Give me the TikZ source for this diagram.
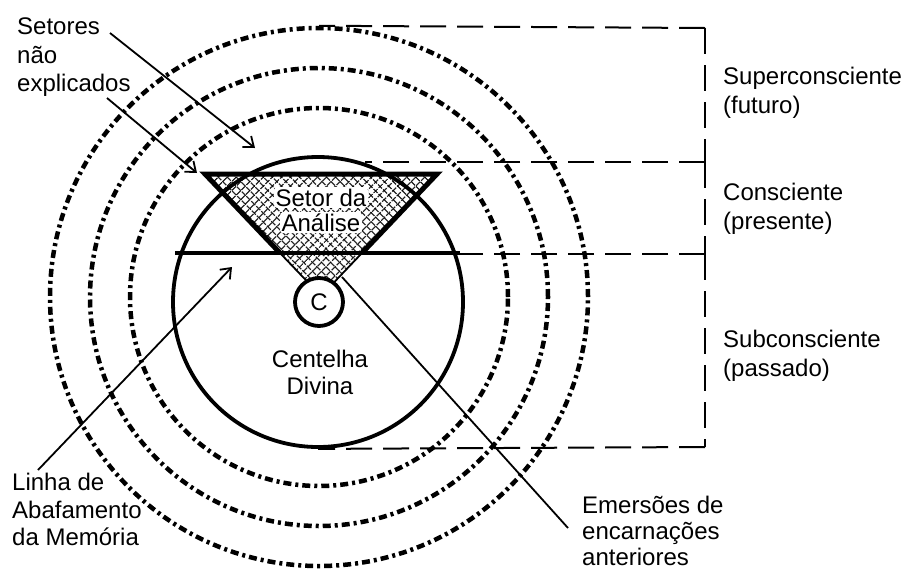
\documentclass[tikz,border=0pt]{standalone}
\usepackage{fontspec}
\setmainfont{Liberation Sans}
\usetikzlibrary{arrows.meta,patterns.meta,positioning,calc}
\tikzset{
    ring/.style={circle, draw, inner sep=0pt, line width=4.5pt, dash pattern=on 8pt off 4pt on 3pt off 4pt},
    bracket/.style={line width=2pt, dash pattern=on 26pt off 11pt},
    rim/.style={line width=3.8pt},
    wedge/.style={line width=5pt, line join=miter},
    pointer/.style={line width=1.8pt, -{Straight Barb[length=9pt,width=14pt,line width=1.8pt]}},
    leader/.style={line width=1.8pt},
    tag/.style={font=\fontsize{24}{28.5}\selectfont, align=left, anchor=north west, inner sep=0pt},
    ctag/.style={font=\fontsize{24}{27}\selectfont, align=center, anchor=north, inner sep=0pt},
    halo/.style={ctag, fill=white, inner sep=1.5pt, rounded corners=3pt},
    hatchA/.style={pattern={Lines[angle=45,distance=6.5pt,line width=1.5pt]}},
    hatchB/.style={pattern={Lines[angle=-45,distance=6.5pt,line width=1.5pt]}},
}
\begin{document}
\begin{tikzpicture}[x=1pt, y=-1pt]
    \useasboundingbox (0,0) rectangle (909,571);
    \foreach \r/\n in {189/1,229/2,269/3}
        \node[ring, minimum size=2*\r pt] (aura\n) at (319,297) {};
    \fill[hatchA] (205,174) -- (437,174) -- (321,296) -- cycle;
    \fill[hatchB] (205,174) -- (437,174) -- (321,296) -- cycle;
    \node[halo] (setor) at (321,187) {Setor da};
    \node[halo, below=4pt of setor] (analise) {Análise};
    \node[circle, draw, rim, inner sep=0pt, minimum size=290pt] (soul) at (318,302) {};
    \coordinate (wl) at (280,253);
    \coordinate (wr) at (362,253);
    \draw[wedge] (wl) -- (205,174) -- (437,174) -- (wr);
    \draw[leader] (wl) -- (321,296) -- (wr);
    \draw[rim, line width=4pt] (175,253) -- (460,253);
    \node[circle, draw, rim, fill=white, inner sep=0pt, minimum size=48pt, font=\fontsize{24}{28}\selectfont] (spark) at (319,302) {C};
    \node[ctag] (centelha) at (320,350) {Centelha\\Divina};
    \coordinate (b0) at (705,28);
    \coordinate (b1) at (705,162);
    \coordinate (b2) at (705,254);
    \coordinate (b3) at (705,447);
    \draw[bracket] (b0) -- (aura3.north);
    \draw[bracket] (b1) -- (365,162);
    \draw[bracket] (b2) -- (460,254);
    \draw[bracket] (b3) -- (soul.south);
    \draw[bracket] (b0) -- (b1);
    \draw[bracket] (b1) -- (b2);
    \draw[bracket] (b2) -- (b3);
    \node[tag] (super) at (723,67) {Superconsciente\\(futuro)};
    \node[tag] (consc) at (723,183) {Consciente\\(presente)};
    \node[tag] (subc) at (723,330) {Subconsciente\\(passado)};
    \node[tag] (setores) at (17,18) {Setores\\não\\explicados};
    \coordinate (s1) at (110,33);
    \coordinate (t1) at (255,148);
    \coordinate (s2) at (107,98);
    \coordinate (t2) at (197,173);
    \draw[pointer] (s1) -- (t1);
    \draw[pointer] (s2) -- (t2);
    \node[tag, font=\fontsize{24}{27.5}\selectfont] (linha) at (12,473) {Linha de\\Abafamento\\da Memória};
    \coordinate (s3) at (38,470);
    \coordinate (t3) at (232,267);
    \draw[pointer] (s3) -- (t3);
    \node[tag, font=\fontsize{24}{26}\selectfont] (emersoes) at (582,496) {Emersões de\\encarnações\\anteriores};
    \coordinate (s4) at (568,528);
    \coordinate (t4) at (342,277);
    \draw[leader] (s4) -- (t4);
\end{tikzpicture}
\end{document}
